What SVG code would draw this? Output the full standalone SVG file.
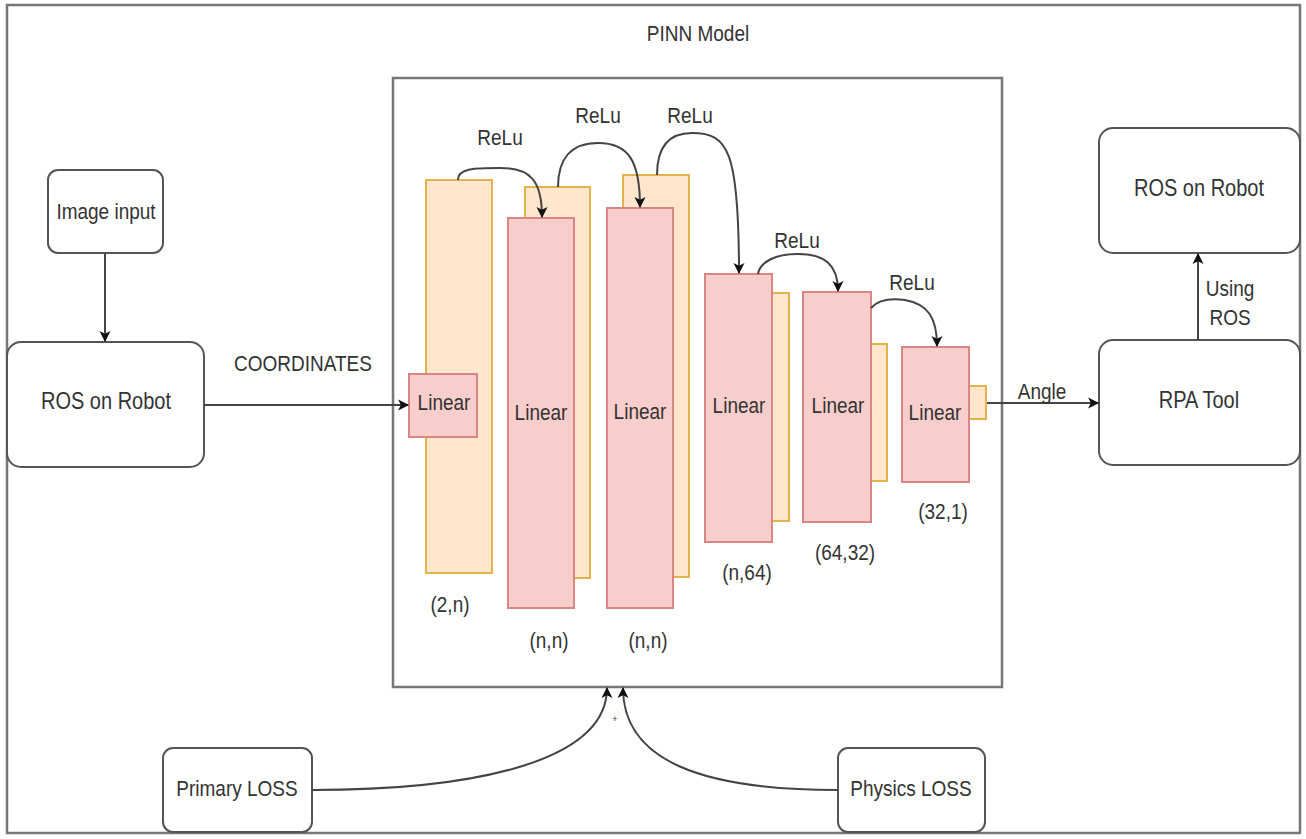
<svg xmlns="http://www.w3.org/2000/svg" width="1306" height="839" viewBox="0 0 1306 839">
<style>
text{font-family:"Liberation Sans",Arial,sans-serif;fill:#333;text-anchor:middle;dominant-baseline:central}
.t{font-size:20px}
.s{font-size:19px}
.box{fill:#fff;stroke:#555;stroke-width:2}
.frame{fill:none;stroke:#777;stroke-width:2.5}
.or{fill:#ffe6cc;stroke:#e2b34a;stroke-width:2}
.pk{fill:#f8cecc;stroke:#d98684;stroke-width:2}
.c{fill:none;stroke:#444;stroke-width:2}
</style>
<defs>
<marker id="ah" viewBox="0 0 10 10" refX="9" refY="5" markerWidth="11" markerHeight="11" orient="auto" markerUnits="userSpaceOnUse" overflow="visible">
<path d="M0,0 L10,5 L0,10 L2.5,5 Z" fill="#111"/>
</marker>
</defs>
<rect width="1306" height="839" fill="#fff"/>
<g id="outer"><rect class="frame" x="7" y="5" width="1293" height="828"/></g>
<g id="pinn"><rect class="frame" x="393" y="78" width="609" height="609"/><text class="s" transform="translate(698,33) scale(1,1.2)">PINN Model</text></g>
<g id="image-input"><rect class="box" x="48" y="170" width="115" height="83" rx="10"/><text class="s" transform="translate(106,211) scale(1,1.2)">Image input</text></g>
<g id="ros-left"><rect class="box" x="7" y="342" width="197" height="125" rx="14"/><text class="t" transform="translate(106,401) scale(1,1.2)">ROS on Robot</text></g>
<g id="rpa"><rect class="box" x="1099" y="340" width="201" height="125" rx="14"/><text class="t" transform="translate(1199,400) scale(1,1.2)">RPA Tool</text></g>
<g id="ros-right"><rect class="box" x="1099" y="128" width="201" height="125" rx="14"/><text class="t" transform="translate(1199,188) scale(1,1.2)">ROS on Robot</text></g>
<g id="primary-loss"><rect class="box" x="163" y="748" width="149" height="84" rx="10"/><text class="s" transform="translate(237,788) scale(1,1.2)">Primary LOSS</text></g>
<g id="physics-loss"><rect class="box" x="838" y="748" width="147" height="84" rx="10"/><text class="s" transform="translate(911,788) scale(1,1.2)">Physics LOSS</text></g>
<g id="layer1"><rect class="or" x="426" y="180" width="66" height="393"/><rect class="pk" x="409" y="374" width="68" height="63"/><text class="s" transform="translate(444,402) scale(1,1.2)">Linear</text><text class="s" transform="translate(450,604) scale(1,1.2)">(2,n)</text></g>
<g id="layer2"><rect class="or" x="525" y="187" width="65" height="391"/><rect class="pk" x="508" y="218" width="66" height="390"/><text class="s" transform="translate(541,412) scale(1,1.2)">Linear</text><text class="s" transform="translate(549,640) scale(1,1.2)">(n,n)</text></g>
<g id="layer3"><rect class="or" x="623" y="175" width="66" height="402"/><rect class="pk" x="607" y="208" width="66" height="400"/><text class="s" transform="translate(640,411) scale(1,1.2)">Linear</text><text class="s" transform="translate(648,640) scale(1,1.2)">(n,n)</text></g>
<g id="layer4"><rect class="or" x="723" y="293" width="66" height="228"/><rect class="pk" x="705" y="274" width="67" height="268"/><text class="s" transform="translate(739,405) scale(1,1.2)">Linear</text><text class="s" transform="translate(747,572) scale(1,1.2)">(n,64)</text></g>
<g id="layer5"><rect class="or" x="821" y="344" width="66" height="137"/><rect class="pk" x="803" y="292" width="68" height="230"/><text class="s" transform="translate(838,405) scale(1,1.2)">Linear</text><text class="s" transform="translate(845,552) scale(1,1.2)">(64,32)</text></g>
<g id="layer6"><rect class="or" x="940" y="386" width="46" height="33"/><rect class="pk" x="902" y="347" width="67" height="135"/><text class="s" transform="translate(935,412) scale(1,1.2)">Linear</text><text class="s" transform="translate(943,511) scale(1,1.2)">(32,1)</text></g>
<g id="connectors">
<path class="c" d="M105,253 V341" marker-end="url(#ah)"/>
<path class="c" d="M204,405 H408" marker-end="url(#ah)"/>
<text class="s" transform="translate(303,363) scale(1,1.2)">COORDINATES</text>
<path class="c" d="M987,403 H1098" marker-end="url(#ah)"/>
<text class="s" transform="translate(1042,391) scale(1,1.2)">Angle</text>
<path class="c" d="M1198,340 V254" marker-end="url(#ah)"/>
<text class="s" transform="translate(1230,288) scale(1,1.2)">Using</text>
<text class="s" transform="translate(1230,317) scale(1,1.2)">ROS</text>
<path class="c" d="M458,180 C458,168 475,168 500,168 C530,168 542,180 542,217" marker-end="url(#ah)"/>
<text class="s" transform="translate(500,137) scale(1,1.2)">ReLu</text>
<path class="c" d="M558,187 C558,160 570,143 598,143 C628,143 640,160 640,207" marker-end="url(#ah)"/>
<text class="s" transform="translate(598,115) scale(1,1.2)">ReLu</text>
<path class="c" d="M657,175 C657,148 668,133 692,133 C728,133 739,150 739,273" marker-end="url(#ah)"/>
<text class="s" transform="translate(690,115) scale(1,1.2)">ReLu</text>
<path class="c" d="M758,274 C760,262 775,254 798,254 C825,254 838,265 838,291" marker-end="url(#ah)"/>
<text class="s" transform="translate(797,240) scale(1,1.2)">ReLu</text>
<path class="c" d="M871,308 C878,300 890,298 905,300 C928,304 937,318 937,346" marker-end="url(#ah)"/>
<text class="s" transform="translate(912,282) scale(1,1.2)">ReLu</text>
<path class="c" d="M312,790 C480,790 607,760 607,688" marker-end="url(#ah)"/>
<path class="c" d="M838,790 C700,790 623,760 623,688" marker-end="url(#ah)"/>
<text x="615" y="719" style="font-size:9px">+</text>
</g>
</svg>
